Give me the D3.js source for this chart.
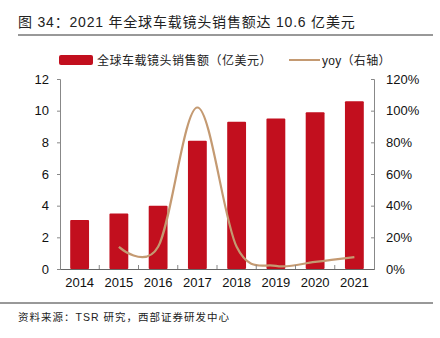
<!DOCTYPE html>
<html>
<head>
<meta charset="utf-8">
<script src="https://cdn.jsdelivr.net/npm/d3@7"></script>
<style>
body { margin: 0; background: #fff; }
text { font-family: "Liberation Sans", Arial, "Noto Sans CJK SC", sans-serif; }
.cn { font-family: "Liberation Sans", "Noto Sans CJK SC", sans-serif; }
</style>
</head>
<body>
<div class="container"></div>
<script>
// datos
const years = ["2014", "2015", "2016", "2017", "2018", "2019", "2020", "2021"]
const sales = [3.1, 3.5, 4.0, 8.1, 9.3, 9.5, 9.9, 10.6]
const yoyYears = ["2015", "2016", "2017", "2018", "2019", "2020", "2021"]
const yoy = [0.14, 0.14, 1.02, 0.14, 0.02, 0.045, 0.075]
const leftTicks = [0, 2, 4, 6, 8, 10, 12]
const rightTicks = [0, 0.2, 0.4, 0.6, 0.8, 1.0, 1.2]

const width = 440
const height = 338
const margin = { top: 79, bottom: 69, left: 60, right: 66 }

const svg = d3.select(".container").append("svg").attr("width", width).attr("height", height)

const x = d3.scaleBand().domain(years).range([margin.left, width - margin.right]).paddingInner(0.52).paddingOuter(0.26)
const y = d3.scaleLinear().domain([0, 12]).range([height - margin.bottom, margin.top])
const y2 = d3.scaleLinear().domain([0, 1.2]).range([height - margin.bottom, margin.top])

// titulo
svg.append("text").attr("class", "cn")
    .attr("x", 18).attr("y", 27)
    .style("font-size", "14px").style("letter-spacing", "0.8px").attr("fill", "#222")
    .text("图 34：2021 年全球车载镜头销售额达 10.6 亿美元")
svg.append("line").attr("x1", 18).attr("x2", 433).attr("y1", 35).attr("y2", 35)
    .attr("stroke", "#333").attr("stroke-width", 1)

// leyenda
svg.append("rect").attr("x", 59).attr("y", 55).attr("width", 34).attr("height", 10).attr("rx", 2).attr("fill", "#C20F1E")
svg.append("text").attr("class", "cn").attr("x", 97).attr("y", 64.5)
    .style("font-size", "12px").style("letter-spacing", "0.5px").attr("fill", "#222").text("全球车载镜头销售额（亿美元）")
svg.append("line").attr("x1", 289).attr("x2", 320).attr("y1", 60).attr("y2", 60)
    .attr("stroke", "#C49A72").attr("stroke-width", 2)
svg.append("text").attr("class", "cn").attr("x", 322).attr("y", 64.5)
    .style("font-size", "12px").style("letter-spacing", "0.3px").attr("fill", "#222").text("yoy（右轴）")

// barras
svg.append("g").selectAll("rect").data(sales)
    .join("rect")
    .attr("x", (d, i) => x(years[i]))
    .attr("y", d => y(d))
    .attr("width", x.bandwidth())
    .attr("height", d => y(0) - y(d))
    .attr("rx", 1)
    .attr("fill", "#C20F1E")

// linea yoy
const line = d3.line()
    .x((d, i) => x(yoyYears[i]) + x.bandwidth() / 2)
    .y(d => y2(d))
    .curve(d3.curveCardinal.tension(0))
svg.append("path").datum(yoy)
    .attr("d", line)
    .attr("fill", "none")
    .attr("stroke", "#C49A72")
    .attr("stroke-width", 2.2)

// ejes
const yAxis = d3.axisLeft(y).tickValues(leftTicks).tickSize(3).tickPadding(8)
const y2Axis = d3.axisRight(y2).tickValues(rightTicks).tickSize(-3).tickPadding(12).tickFormat(d3.format(".0%"))
const xAxis = d3.axisBottom(x).tickSize(0).tickPadding(9)

const gy = svg.append("g").attr("transform", `translate(${margin.left},0)`).call(yAxis)
const gy2 = svg.append("g").attr("transform", `translate(${width - margin.right},0)`).call(y2Axis)
const gx = svg.append("g").attr("transform", `translate(0,${height - margin.bottom})`).call(xAxis)

// marcas entre categorias
const step = x.step()
svg.append("g").selectAll("line").data(years.slice(1))
    .join("line")
    .attr("x1", d => x(d) - step * 0.26)
    .attr("x2", d => x(d) - step * 0.26)
    .attr("y1", y(0)).attr("y2", y(0) - 4)
    .attr("stroke", "#888")

for (const g of [gy, gy2, gx]) {
    g.selectAll("path.domain").attr("stroke", "#888")
    g.selectAll(".tick line").attr("stroke", "#888")
    g.selectAll("text").style("font-size", "13px").attr("fill", "#111")
        .style("font-family", '"Liberation Sans", Arial, sans-serif')
}
gx.selectAll("path.domain").attr("stroke", "#666")

// fuente
svg.append("line").attr("x1", 0).attr("x2", 433).attr("y1", 303).attr("y2", 303)
    .attr("stroke", "#333").attr("stroke-width", 1)
svg.append("text").attr("class", "cn").attr("x", 18).attr("y", 321)
    .style("font-size", "10.5px").style("letter-spacing", "1px").attr("fill", "#222")
    .text("资料来源：TSR 研究，西部证券研发中心")
</script>
</body>
</html>
